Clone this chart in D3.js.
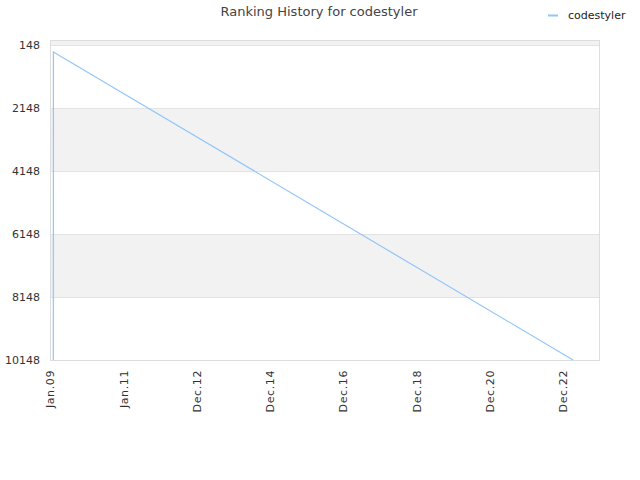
<!DOCTYPE html>
<html><head><meta charset="utf-8">
<script src="https://cdn.jsdelivr.net/npm/d3@7"></script>
<style>body{margin:0;background:#fff;}svg{display:block;font-family:"DejaVu Sans",sans-serif;}</style>
</head><body>
<script>
const seriesName = "codestyler";
const dates = ["2009-02-03", "2009-02-04", "2023-04-10"];
const ranks = [10148, 370, 10148];
const yTicks = [148, 2148, 4148, 6148, 8148, 10148];
const xTickDates = ["2009-01-01","2011-01-01","2012-12-31","2014-12-31","2016-12-30","2018-12-30","2020-12-29","2022-12-29"];

const W = 640, H = 480;
const m = {l: 50, r: 40, t: 40, b: 120};
const parse = d3.timeParse("%Y-%m-%d");
const data = dates.map((d, i) => ({date: parse(d), rank: ranks[i]}));

const svg = d3.select("body").append("svg").attr("width", W).attr("height", H);

const x = d3.scaleTime().domain([parse("2009-01-01"), parse("2024-01-03")]).range([m.l, W - m.r]);
const y = d3.scaleLinear().domain([-10, 10148]).range([m.t, H - m.b]);

// bands
const bandEdges = [-10].concat(yTicks);
for (let i = 0; i < bandEdges.length - 1; i++) {
  svg.append("rect")
    .attr("x", m.l).attr("width", W - m.r - m.l)
    .attr("y", y(bandEdges[i])).attr("height", y(bandEdges[i + 1]) - y(bandEdges[i]))
    .attr("fill", i % 2 === 0 ? "#f2f2f2" : "#ffffff");
}
// grid lines
svg.append("g").selectAll("line").data(yTicks).join("line")
  .attr("x1", m.l).attr("x2", W - m.r)
  .attr("y1", d => y(d) + 0.5).attr("y2", d => y(d) + 0.5)
  .attr("stroke", "#e3e3e3");

// border
svg.append("rect").attr("x", m.l + 0.5).attr("y", m.t + 0.5)
  .attr("width", W - m.r - m.l - 1).attr("height", H - m.b - m.t)
  .attr("fill", "none").attr("stroke", "#dddddd");

// y axis
const yAxis = d3.axisLeft(y).tickValues(yTicks).tickSize(0).tickPadding(10).tickFormat(d3.format("d"));
const gy = svg.append("g").attr("transform", `translate(${m.l},0)`).call(yAxis);
gy.select(".domain").remove();
gy.selectAll("text").attr("fill", "#333").attr("font-size", 11).attr("font-family", "DejaVu Sans");

// x axis
const xAxis = d3.axisBottom(x).tickValues(xTickDates.map(parse)).tickSize(0).tickFormat(d3.timeFormat("%b.%y"));
const gx = svg.append("g").attr("transform", `translate(0,${H - m.b})`).call(xAxis);
gx.select(".domain").remove();
gx.selectAll("text")
  .attr("fill", "#333").attr("font-size", 11).attr("font-family", "DejaVu Sans")
  .attr("letter-spacing", "0.6px")
  .attr("text-anchor", "end")
  .attr("transform", "rotate(-90)")
  .attr("x", -10).attr("y", 0).attr("dy", "0.35em");

// line
const line = d3.line().x(d => x(d.date)).y(d => y(d.rank));
svg.append("path").datum(data).attr("d", line)
  .attr("fill", "none").attr("stroke", "#92c5f9").attr("stroke-width", 1.2);

// title
svg.append("text").attr("x", 319).attr("y", 16).attr("text-anchor", "middle")
  .attr("font-size", 13).attr("fill", "#444").text("Ranking History for " + seriesName);

// legend
svg.append("line").attr("x1", 548).attr("x2", 558).attr("y1", 15.5).attr("y2", 15.5)
  .attr("stroke", "#92c5f9").attr("stroke-width", 2);
svg.append("text").attr("x", 568).attr("y", 19).attr("font-size", 11).attr("fill", "#222").text(seriesName);
</script>
</body></html>
